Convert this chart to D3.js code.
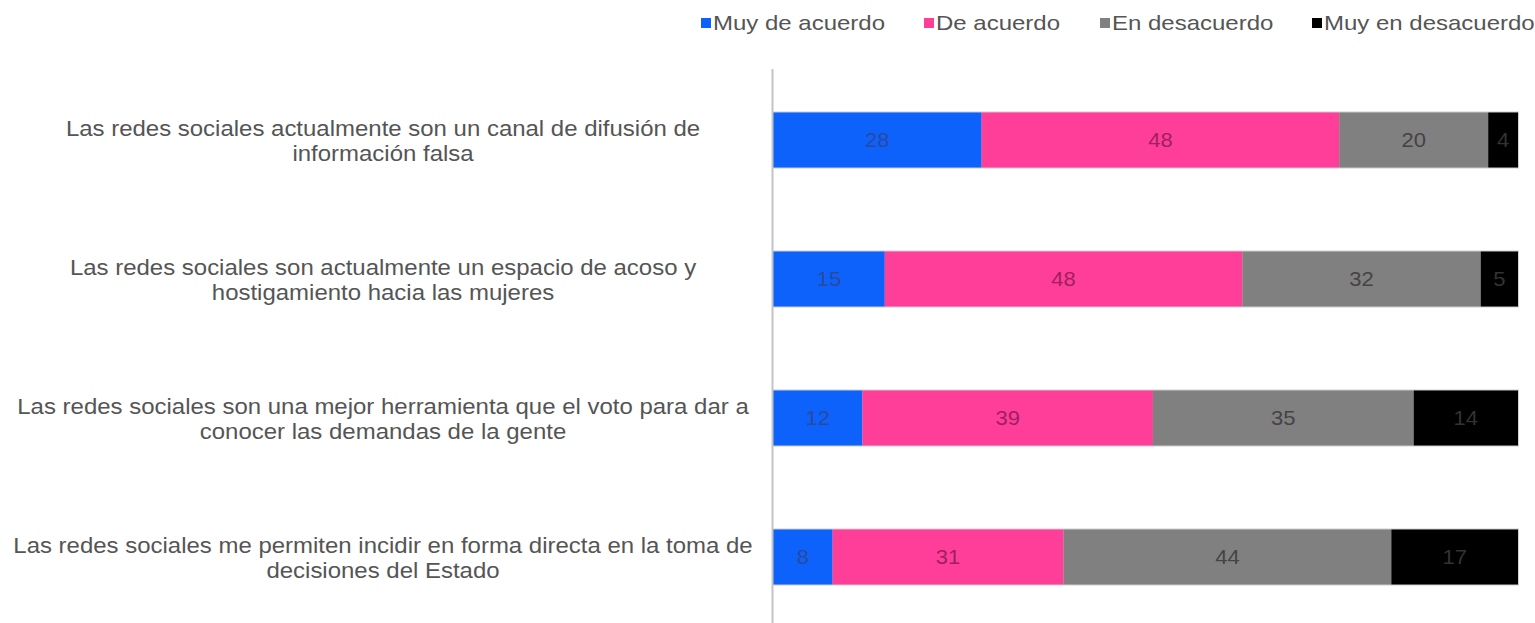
<!DOCTYPE html>
<html>
<head>
<meta charset="utf-8">
<script src="https://cdn.jsdelivr.net/npm/d3@7"></script>
<style>
  body { margin: 0; background: #fff; }
  svg { display: block; font-family: "Liberation Sans", Arial, sans-serif; }
</style>
</head>
<body>
<svg></svg>
<script>
// categories (line breaks as in the original)
const categories = [
  "Las redes sociales actualmente son un canal de difusión de\ninformación falsa",
  "Las redes sociales son actualmente un espacio de acoso y\nhostigamiento hacia las mujeres",
  "Las redes sociales son una mejor herramienta que el voto para dar a\nconocer las demandas de la gente",
  "Las redes sociales me permiten incidir en forma directa en la toma de\ndecisiones del Estado"
];
const seriesNames = ["Muy de acuerdo", "De acuerdo", "En desacuerdo", "Muy en desacuerdo"];
const muyDeAcuerdo = [28, 15, 12, 8];
const deAcuerdo = [48, 48, 39, 31];
const enDesacuerdo = [20, 32, 35, 44];
const muyEnDesacuerdo = [4, 5, 14, 17];

const colors = ["#0d62fb", "#ff3e9a", "#808080", "#000000"];
const labelColors = ["#2a4a9c", "#a11f60", "#444444", "#333333"];

const width = 1535, height = 623;
const svg = d3.select("svg").attr("width", width).attr("height", height);

// build rows for d3.stack
const rows = categories.map((c, i) => ({
  cat: c,
  "Muy de acuerdo": muyDeAcuerdo[i],
  "De acuerdo": deAcuerdo[i],
  "En desacuerdo": enDesacuerdo[i],
  "Muy en desacuerdo": muyEnDesacuerdo[i]
}));
const stacked = d3.stack().keys(seriesNames)(rows);

const x = d3.scaleLinear().domain([0, 100]).range([773, 1518]);
const y = d3.scaleBand().domain(categories).range([70.5, 626.5])
  .paddingInner(0.604).paddingOuter(0.302);

// bar outlines
svg.append("g").selectAll("rect")
  .data(rows)
  .join("rect")
  .attr("x", x(0))
  .attr("y", d => y(d.cat) - 1)
  .attr("width", x(100) - x(0) + 1)
  .attr("height", y.bandwidth() + 2)
  .attr("fill", "#d0d0d0");

// stacked segments
const layer = svg.append("g").selectAll("g")
  .data(stacked)
  .join("g")
  .attr("fill", (d, i) => colors[i]);

layer.selectAll("rect")
  .data(d => d)
  .join("rect")
  .attr("x", d => x(d[0]))
  .attr("y", d => y(d.data.cat))
  .attr("width", d => x(d[1]) - x(d[0]))
  .attr("height", y.bandwidth());

// value labels
svg.append("g").selectAll("g")
  .data(stacked)
  .join("g")
  .attr("fill", (d, i) => labelColors[i])
  .selectAll("text")
  .data(d => d)
  .join("text")
  .attr("transform", d => `translate(${(x(d[0]) + x(d[1])) / 2},${y(d.data.cat) + y.bandwidth() / 2}) scale(1.1,1)`)
  .attr("dy", "0.35em")
  .attr("text-anchor", "middle")
  .style("font-size", "20px")
  .text(d => d[1] - d[0]);

// vertical axis line
svg.append("line")
  .attr("x1", x(0) - 0.5).attr("x2", x(0) - 0.5)
  .attr("y1", 69).attr("y2", height)
  .attr("stroke", "#c4c4c4")
  .attr("stroke-width", 2);

// category labels (text in the original is slightly wide, so stretch it)
const catLabels = svg.append("g").selectAll("text")
  .data(categories)
  .join("text")
  .attr("text-anchor", "middle")
  .attr("fill", "#555")
  .style("font-size", "22px")
  .attr("transform", d => `translate(383,${y(d) + y.bandwidth() / 2 + 1}) scale(1.09,1)`);

catLabels.each(function (d) {
  const lines = d.split("\n");
  const t = d3.select(this);
  lines.forEach((l, i) => {
    t.append("tspan")
      .attr("x", 0)
      .attr("y", (i - (lines.length - 1) / 2) * 25)
      .attr("dy", "0.35em")
      .text(l);
  });
});

// legend
const legendX = [701, 924, 1100, 1312];
const legend = svg.append("g").selectAll("g")
  .data(seriesNames)
  .join("g")
  .attr("transform", (d, i) => `translate(${legendX[i]},23)`);

legend.append("rect")
  .attr("x", 0).attr("y", -5)
  .attr("width", 10).attr("height", 10)
  .attr("fill", (d, i) => colors[i]);

legend.append("text")
  .attr("transform", "translate(12,0) scale(1.2,1)")
  .attr("dy", "0.35em")
  .attr("fill", "#555")
  .style("font-size", "20px")
  .text(d => d);
</script>
</body>
</html>
